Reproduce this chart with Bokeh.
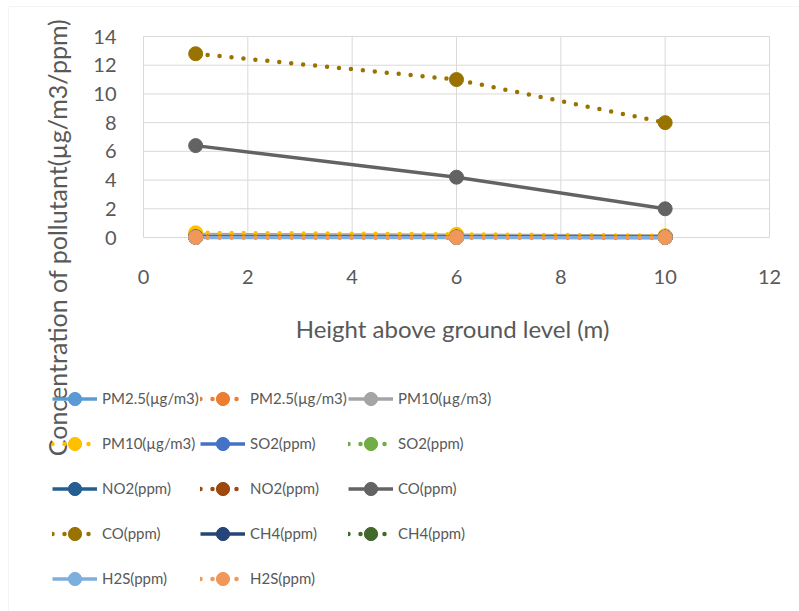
from math import pi

from bokeh.embed import file_html
from bokeh.models import (BoxAnnotation, FixedTicker, Label, Legend, LegendItem,
                          Range1d)
from bokeh.plotting import figure
from bokeh.resources import INLINE

# Sampling heights above ground level (m)
heights = [1, 6, 10]

# Concentrations at each height, two profiles per pollutant
pm25_a = [0.12, 0.10, 0.07]
pm25_b = [0.15, 0.12, 0.08]
pm10_a = [0.21, 0.16, 0.10]
pm10_b = [0.33, 0.22, 0.12]
so2_a = [0.02, 0.015, 0.01]
so2_b = [0.03, 0.02, 0.015]
no2_a = [0.04, 0.03, 0.02]
no2_b = [0.05, 0.04, 0.03]
co_a = [6.4, 4.2, 2.0]
co_b = [12.8, 11.0, 8.0]
ch4_a = [0.01, 0.01, 0.008]
ch4_b = [0.012, 0.01, 0.009]
h2s_a = [0.005, 0.004, 0.003]
h2s_b = [0.008, 0.006, 0.005]

labels = ["PM2.5(µg/m3)", "PM2.5(µg/m3)", "PM10(µg/m3)", "PM10(µg/m3)",
          "SO2(ppm)", "SO2(ppm)", "NO2(ppm)", "NO2(ppm)",
          "CO(ppm)", "CO(ppm)", "CH4(ppm)", "CH4(ppm)",
          "H2S(ppm)", "H2S(ppm)"]
series = [pm25_a, pm25_b, pm10_a, pm10_b, so2_a, so2_b, no2_a, no2_b,
          co_a, co_b, ch4_a, ch4_b, h2s_a, h2s_b]
colors = ["#5B9BD5", "#ED7D31", "#A5A5A5", "#FFC000", "#4472C4", "#70AD47",
          "#255E91", "#9E480E", "#636363", "#997300", "#264478", "#43682B",
          "#7CAFDD", "#F1975A"]

x_ticks = [0, 2, 4, 6, 8, 10, 12]
y_ticks = [0, 2, 4, 6, 8, 10, 12, 14]
x_title = "Height above ground level (m)"
y_title = "Concentration of pollutant(µg/m3/ppm)"

FONT = "Lato"
TEXT = "#595959"
GRID = "#d9d9d9"

W, H = 799, 611
# plot-area placement on the canvas (pixels from the top-left corner)
PL, PR, PT, PB = 143, 769, 36, 237
xs = (PR - PL) / (x_ticks[-1] - x_ticks[0])
ys = (PB - PT) / (y_ticks[-1] - y_ticks[0])

p = figure(width=W, height=H,
           x_range=Range1d(x_ticks[0] - PL / xs, x_ticks[-1] + (W - PR) / xs),
           y_range=Range1d(y_ticks[0] - (H - PB) / ys, y_ticks[-1] + PT / ys),
           output_backend="svg", toolbar_location=None,
           min_border=0, min_border_left=0, min_border_right=0,
           min_border_top=0, min_border_bottom=0)
p.outline_line_color = None
p.background_fill_color = "white"
p.border_fill_color = "white"
p.grid.visible = False

# light chart-area border
p.add_layout(BoxAnnotation(left=8, right=W + 10, top=H - 6, bottom=-10,
                           left_units="screen", right_units="screen",
                           top_units="screen", bottom_units="screen",
                           fill_alpha=0, line_color=GRID, line_width=1))

# gridlines restricted to the plot area
p.segment(x0=x_ticks, y0=[y_ticks[0]] * len(x_ticks), x1=x_ticks,
          y1=[y_ticks[-1]] * len(x_ticks), line_color=GRID, line_width=1)
p.segment(x0=[x_ticks[0]] * len(y_ticks), y0=y_ticks, x1=[x_ticks[-1]] * len(y_ticks),
          y1=y_ticks, line_color=GRID, line_width=1)

p.xaxis.ticker = FixedTicker(ticks=x_ticks)
p.yaxis.ticker = FixedTicker(ticks=y_ticks)
p.xaxis.fixed_location = 0
p.yaxis.fixed_location = 0

for ax in (p.xaxis, p.yaxis):
    ax.major_tick_line_color = None
    ax.minor_tick_line_color = None
    ax.axis_line_color = None
    ax.major_label_text_font = FONT
    ax.major_label_text_font_size = "20px"
    ax.major_label_text_color = TEXT

p.xaxis.major_label_standoff = 26
p.yaxis.major_label_standoff = 21

items = []
for k, (name, vals, col) in enumerate(zip(labels, series, colors)):
    if k % 2 == 1:
        ln = p.line(heights, vals, line_color=col, line_width=4.5,
                    line_dash="0 12", line_cap="round")
    else:
        ln = p.line(heights, vals, line_color=col, line_width=3.5)
    sc = p.scatter(heights, vals, size=14, fill_color=col, line_color=col)
    items.append(LegendItem(label=name, renderers=[ln, sc]))

# legend laid out as three columns beneath the plot
col_left = [52, 200, 348]
row_top = 381.5
for c in range(3):
    its = items[c::3]
    n = len(its)
    h = n * 33 + (n - 1) * 12
    leg = Legend(items=its, location=(col_left[c], H - (row_top + h)),
                 orientation="vertical", glyph_width=45, glyph_height=33,
                 label_height=33, label_standoff=5, spacing=12, padding=0,
                 margin=0, border_line_color=None, background_fill_alpha=0,
                 label_text_font=FONT, label_text_font_size="15px",
                 label_text_color=TEXT)
    p.add_layout(leg)

# axis titles
p.add_layout(Label(x=452, y=H - 328, x_units="screen", y_units="screen",
                   text=x_title, text_align="center", text_baseline="middle",
                   text_font=FONT, text_font_size="24px", text_color=TEXT))
p.add_layout(Label(x=56, y=H - 237, x_units="screen", y_units="screen",
                   text=y_title, angle=pi / 2,
                   text_align="center", text_baseline="middle", text_font=FONT,
                   text_font_size="25px", text_color=TEXT))

open("out.html", "w").write(file_html(p, INLINE))
